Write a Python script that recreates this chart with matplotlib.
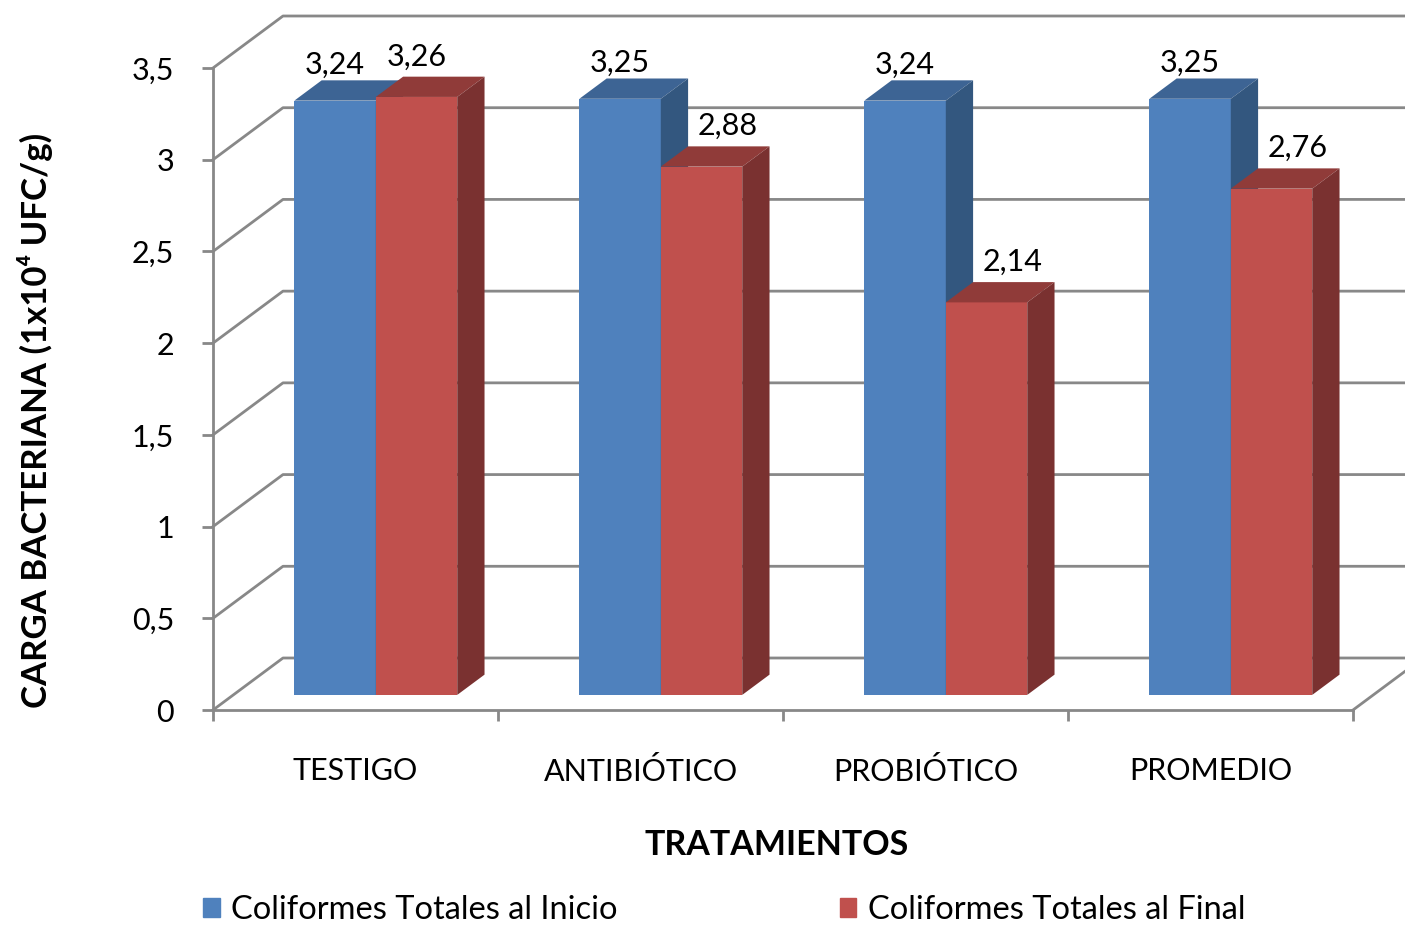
import matplotlib
matplotlib.use('Agg')
import matplotlib.pyplot as plt
from matplotlib.patches import Polygon, Patch

plt.rcParams['font.family'] = ['Lato', 'DejaVu Sans']

categorias = ['TESTIGO', 'ANTIBIÓTICO', 'PROBIÓTICO', 'PROMEDIO']
inicio = [3.24, 3.25, 3.24, 3.25]
final = [3.26, 2.88, 2.14, 2.76]
serie_inicio = 'Coliformes Totales al Inicio'
serie_final = 'Coliformes Totales al Final'
yticks = [0, 0.5, 1, 1.5, 2, 2.5, 3, 3.5]

# colores: frente, techo, lado
azul = ('#4F81BD', '#3D6494', '#33577F')
rojo = ('#C0504D', '#903B39', '#7A3130')
gris = '#888888'

W = 1 / 3.5          # ancho de barra
DX, DY = 0.2456, 0.2835   # desplazamiento de profundidad
d0, d1 = 0.29, 0.68

fig = plt.figure(figsize=(14.05, 9.25), dpi=100)
ax = fig.add_axes([213/1405, 1 - 710/925, 1140/1405, 642/925])
ax.set_xlim(0, 4)
ax.set_ylim(0, 3.5)
for s in ['top', 'right']:
    ax.spines[s].set_visible(False)
for s in ['left', 'bottom']:
    ax.spines[s].set_color(gris)
    ax.spines[s].set_linewidth(2)
    ax.spines[s].set_zorder(1)

# paredes (izquierda y fondo)
for v in yticks:
    ax.plot([0, DX, 4 + DX + 1], [v, v + DY, v + DY], color=gris, lw=2,
            clip_on=False, zorder=0)
ax.plot([4, 4 + DX], [0, DY], color=gris, lw=2, clip_on=False, zorder=0)

ax.set_yticks(yticks)
ax.set_yticklabels([f'{v:g}'.replace('.', ',') for v in yticks], fontsize=22)
ax.set_xticks([0, 1, 2, 3, 4])
ax.set_xticklabels([])
ax.set_xticks([i + 0.5 for i in range(4)], categorias, minor=True)
ax.tick_params(axis='both', which='major', color=gris, width=2, length=8)
ax.tick_params(axis='y', pad=20)
ax.tick_params(axis='x', which='minor', length=0, pad=34, labelsize=22)


def barra3d(xl, v, col, z):
    ax.bar(xl + d0 * DX, v, width=W, bottom=d0 * DY, align='edge',
           color=col[0], zorder=z, linewidth=0)
    top = [(xl + d0 * DX, v + d0 * DY), (xl + W + d0 * DX, v + d0 * DY),
           (xl + W + d1 * DX, v + d1 * DY), (xl + d1 * DX, v + d1 * DY)]
    xr = xl + W
    side = [(xr + d0 * DX, d0 * DY), (xr + d1 * DX, d1 * DY),
            (xr + d1 * DX, v + d1 * DY), (xr + d0 * DX, v + d0 * DY)]
    ax.add_patch(Polygon(top, closed=True, color=col[1], zorder=z, lw=0, clip_on=False))
    ax.add_patch(Polygon(side, closed=True, color=col[2], zorder=z, lw=0, clip_on=False))


for i in range(4):
    xb = i + 0.5 - W
    xr = i + 0.5
    barra3d(xb, inicio[i], azul, 2)
    barra3d(xr, final[i], rojo, 3)
    ax.annotate(f'{inicio[i]:.2f}'.replace('.', ','),
                (xb + d0 * DX + W / 2, inicio[i] + d1 * DY),
                xytext=(0, 5), textcoords='offset points',
                ha='center', va='baseline', fontsize=22, annotation_clip=False, zorder=5)
    shift = 0.092 if final[i] < inicio[i] else 0
    ax.annotate(f'{final[i]:.2f}'.replace('.', ','),
                (xr + d0 * DX + W / 2 + shift, final[i] + d1 * DY),
                xytext=(0, 8), textcoords='offset points',
                ha='center', va='baseline', fontsize=22, annotation_clip=False, zorder=5)

fig.text(777 / 1405, 1 - 845 / 925, 'TRATAMIENTOS', ha='center', va='center',
         fontsize=24.5, fontweight='bold')
fig.text(35 / 1405, 1 - 420 / 925, 'CARGA BACTERIANA (1x10⁴ UFC/g)', ha='center',
         va='center', rotation=90, fontsize=25, fontweight='bold')

handles = [Patch(color=azul[0], label=serie_inicio), Patch(color=rojo[0], label=serie_final)]
fig.legend(handles=handles, loc='center left', bbox_to_anchor=(203 / 1405, 1 - 910 / 925),
           ncol=2, frameon=False, fontsize=23.5, handlelength=0.52, handleheight=0.52,
           handletextpad=0.34, columnspacing=6.8, borderpad=0, borderaxespad=0)

fig.savefig('out.png', dpi=100)
